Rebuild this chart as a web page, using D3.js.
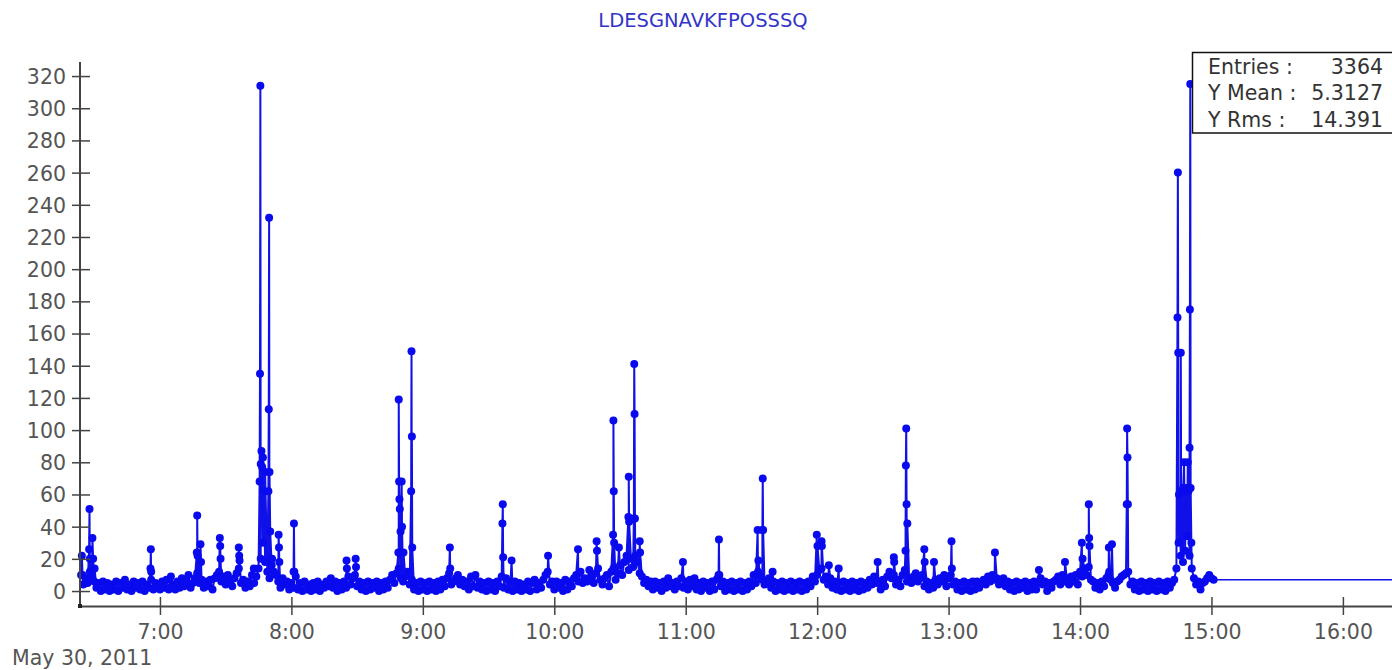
<!DOCTYPE html>
<html>
<head>
<meta charset="utf-8">
<script src="https://cdn.jsdelivr.net/npm/d3@7"></script>
<style>
  body { margin: 0; background: #fff; }
  svg { display: block; font-family: "DejaVu Sans", sans-serif; }
</style>
</head>
<body>
<svg id="chart" width="1392" height="670"></svg>
<script>
const chartTitle = "LDESGNAVKFPOSSSQ";
const dateLabel = "May 30, 2011";
const stats = [["Entries :", "3364"], ["Y Mean :", "5.3127"], ["Y Rms :", "14.391"]];
const yTicks = d3.range(0, 321, 20);
const xTickHours = [7, 8, 9, 10, 11, 12, 13, 14, 15, 16];

// background level, one reading per minute, each list starts at the given clock time
const base06 = [10,4,8,5,12,8,6,2,5,0,6,1,5,0,4,1,6,0,5,2,7,1,4,0,6,2,5,1,6,0,4,2,7,1,5,2];
const base07 = [1,6,2,7,1,9,4,1,6,2,8,3,6,10,2,5,8,11,5,7,2,6,3,7,1,8,10,12,6,9,4,10,6,3,8,11,14,5,7,2,6,3,10,5,9,14,20,30,18,12,8,16,12,10,6,2,8,4,6,1];
const base08 = [5,2,9,1,5,0,6,1,4,0,5,1,6,0,4,2,6,3,8,2,6,0,5,1,6,2,9,4,8,10,3,6,1,5,0,6,1,5,2,6,0,5,1,6,2,7,10,5,11,14,8,6,9,12,4,7,1,5,0,6];
const base09 = [1,5,0,6,1,5,0,6,1,7,3,8,11,4,6,8,10,4,7,3,6,1,9,3,10,2,6,1,5,0,6,1,5,0,6,3,9,2,8,1,5,0,6,1,5,0,4,1,6,0,5,7,1,5,2,7,10,12,4,6];
const base10 = [1,6,2,5,0,7,1,6,3,8,10,6,12,5,8,6,13,9,5,11,14,7,4,8,10,3,12,14,7,11,16,10,18,22,13,20,15,22,18,11,9,5,7,3,6,1,6,2,5,0,6,2,8,3,5,1,6,3,8,2];
const base11 = [6,1,7,3,8,1,5,0,6,2,5,0,6,1,7,9,3,6,0,5,1,6,0,5,1,6,0,5,1,6,3,10,5,12,9,7,4,6,8,2,6,0,5,1,6,0,5,1,6,0,5,1,6,0,5,1,6,3,9,6];
const base12 = [10,13,14,7,9,4,8,2,6,1,5,0,6,1,5,0,6,1,5,0,6,1,5,2,7,4,9,5,6,1,7,3,9,12,8,10,4,7,3,10,13,6,8,5,9,11,6,8,10,3,6,1,5,2,7,4,8,6,10,3];
const base13 = [8,10,4,6,1,5,0,6,1,5,0,6,1,6,2,5,7,4,9,6,10,7,8,4,6,8,3,6,1,5,0,6,1,5,2,6,0,5,1,6,1,5,8,4,6,0,5,2,6,7,9,4,10,6,8,4,9,6,10,4];
const base14 = [12,9,14,10,15,7,6,2,5,1,6,3,8,10,7,5,2,6,7,9,10,11,12,4,6,1,5,0,6,1,5,0,6,1,5,0,6,1,5,0,6,2,5,7,14,30,22,18,25,34,22,14,8,4,6,1,5,6,8,10];
const base15 = [8,7];
const baseStarts = ["06:24:00","07:00:00","08:00:00","09:00:00","10:00:00","11:00:00","12:00:00","13:00:00","14:00:00","15:00:00"];
const baseLists = [base06, base07, base08, base09, base10, base11, base12, base13, base14, base15];

// the spikes
const peakTimes = [
  "06:24:20","06:24:40","06:27:40","06:27:50","06:28:00","06:29:10","06:29:30","06:30:10",
  "06:55:40","06:55:50","06:56:00",
  "07:16:50","07:17:00","07:17:10","07:18:30","07:18:45",
  "07:27:20","07:27:30","07:27:40","07:36:00","07:36:10","07:36:20","07:42:50",
  "07:45:30","07:45:40","07:45:50","07:46:00","07:46:20","07:46:40","07:47:00","07:47:30","07:48:00",
  "07:49:30","07:49:40","07:49:50","07:50:00","07:50:20","07:51:10",
  "07:54:10","07:54:20","07:54:30",
  "08:01:00","08:01:10","08:01:20",
  "08:25:10","08:25:20","08:29:20","08:29:30",
  "08:48:50","08:49:00","08:49:10","08:49:20","08:49:30","08:49:50","08:50:20","08:50:30","08:51:10",
  "08:54:40","08:54:50","08:55:00","08:55:10",
  "09:12:20","09:12:30",
  "09:36:20","09:36:30","09:36:40","09:40:30",
  "09:57:10",
  "10:10:50",
  "10:19:20","10:19:30",
  "10:26:50","10:27:00","10:27:10","10:27:20","10:29:30",
  "10:33:50","10:34:00","10:34:10",
  "10:36:20","10:36:30","10:36:40","10:36:50","10:39:00","10:39:10",
  "10:58:45",
  "11:15:00","11:15:10","11:15:20",
  "11:32:50","11:33:10","11:35:00","11:35:10","11:35:20","11:39:40",
  "11:59:50","12:00:10","12:02:00","12:02:10","12:05:20","12:09:50",
  "12:27:37","12:35:00","12:35:10",
  "12:40:20","12:40:30","12:40:40","12:40:50","12:41:10",
  "12:48:55","12:49:05","12:53:21",
  "13:01:20","13:01:30","13:21:10","13:41:15","13:53:08",
  "14:00:50","14:01:10","14:04:00","14:04:10","14:04:20",
  "14:13:10","14:13:20","14:14:35",
  "14:21:20","14:21:30","14:21:40","14:21:50",
  "14:44:30","14:44:40","14:44:50","14:45:10",
  "14:46:00","14:46:10","14:47:10","14:47:30","14:48:10","14:48:30","14:49:10","14:49:30",
  "14:50:00","14:50:10","14:50:20","14:50:30","14:50:50"
];
const peakValues = [
  22,10,26,51,20,33,20,14,
  14,26,12,
  24,47,22,29,18,
  33,28,20,27,22,19,14,
  68,135,314,79,87,77,83,62,74,
  62,113,232,74,37,20,
  35,27,18,
  12,42,12,
  19,14,20,15,
  24,119,68,57,51,37,68,40,24,
  62,149,96,27,
  27,14,
  42,54,21,19,
  22,
  26,
  31,25,
  35,106,62,30,27,
  46,71,43,
  45,141,110,45,31,24,
  18,
  10,32,10,
  38,19,38,70,38,12,
  35,28,31,28,16,14,
  18,21,18,
  25,78,101,54,42,
  26,18,18,
  31,14,24,13,18,
  30,20,54,33,28,
  27,12,29,
  54,101,83,54,
  170,260,148,60,
  148,62,64,80,62,64,80,62,
  89,175,315,64,30
];

const svg = d3.select("#chart");
const parse = d3.timeParse("%H:%M:%S");

// build the series
let points = [];
baseLists.forEach((list, i) => {
  const start = parse(baseStarts[i]);
  list.forEach((v, j) => points.push({ t: d3.timeMinute.offset(start, j), v: v }));
});
peakTimes.forEach((s, i) => points.push({ t: parse(s), v: peakValues[i] }));
points.sort((a, b) => a.t - b.t);

const x = d3.scaleTime()
  .domain([parse("06:23:30"), parse("16:22:25")])
  .range([80, 1392]);
const y = d3.scaleLinear()
  .domain([-9.3, 339.3])
  .range([606, 45]);

const axisColor = "#444";
const labelColor = "#555";

// title
svg.append("text")
  .attr("x", 703).attr("y", 27)
  .attr("text-anchor", "middle")
  .attr("font-size", 19.5)
  .attr("fill", "#3434c8")
  .text(chartTitle);

// data
const plot = svg.append("g");
const lineGen = d3.line().x(d => x(d.t)).y(d => y(d.v));
plot.append("path")
  .datum(points)
  .attr("d", lineGen)
  .attr("fill", "none")
  .attr("stroke", "#1010e8")
  .attr("stroke-width", 2);

const last = points[points.length - 1];
plot.append("line")
  .attr("x1", x(last.t)).attr("x2", x.range()[1])
  .attr("y1", y(last.v)).attr("y2", y(last.v))
  .attr("stroke", "#1010e8")
  .attr("stroke-width", 1.5);

plot.selectAll("circle")
  .data(points)
  .join("circle")
  .attr("cx", d => x(d.t))
  .attr("cy", d => y(d.v))
  .attr("r", 4)
  .attr("fill", "#0a0aee");

// y axis
const yAxis = svg.append("g")
  .attr("transform", "translate(80,0)")
  .call(d3.axisLeft(y).tickValues(yTicks).tickSizeInner(8).tickSizeOuter(0).tickPadding(6));
yAxis.selectAll(".tick line").attr("x1", 10).attr("stroke", axisColor).attr("stroke-width", 1.5);
yAxis.select(".domain").attr("d", "M0,606V62").attr("stroke", axisColor).attr("stroke-width", 2);
yAxis.selectAll("text")
  .attr("font-size", 20.5)
  .attr("font-family", "DejaVu Sans, sans-serif")
  .attr("fill", labelColor)
  .attr("dy", "0.36em");

// x axis
const xTicks = xTickHours.map(h => parse((h < 10 ? "0" : "") + h + ":00:00"));
const xAxis = svg.append("g")
  .attr("transform", "translate(0,606)")
  .call(d3.axisBottom(x).tickValues(xTicks).tickFormat(d3.timeFormat("%-H:%M")).tickSizeInner(9).tickSizeOuter(0));
xAxis.selectAll(".tick line").attr("y1", -9).attr("stroke", axisColor).attr("stroke-width", 1.5);
xAxis.select(".domain").attr("stroke", axisColor).attr("stroke-width", 2);
xAxis.selectAll("text")
  .attr("font-size", 20.5)
  .attr("font-family", "DejaVu Sans, sans-serif")
  .attr("fill", labelColor)
  .attr("y", 33)
  .attr("dy", 0);

svg.append("rect")
  .attr("x", 78).attr("y", 604).attr("width", 4).attr("height", 4)
  .attr("fill", "#222");

svg.append("text")
  .attr("x", 12).attr("y", 665)
  .attr("font-size", 20.5)
  .attr("fill", labelColor)
  .text(dateLabel);

// stats box
const box = svg.append("g");
box.append("rect")
  .attr("x", 1192.5).attr("y", 52.5)
  .attr("width", 260).attr("height", 80.5)
  .attr("fill", "#fff")
  .attr("stroke", "#111")
  .attr("stroke-width", 1.5);
stats.forEach((row, i) => {
  const by = 73.5 + i * 26.7;
  box.append("text").attr("x", 1208).attr("y", by)
    .attr("font-size", 20.5).attr("fill", "#333").text(row[0]);
  box.append("text").attr("x", 1383).attr("y", by)
    .attr("text-anchor", "end")
    .attr("font-size", 20.5).attr("fill", "#333").text(row[1]);
});
</script>
</body>
</html>
